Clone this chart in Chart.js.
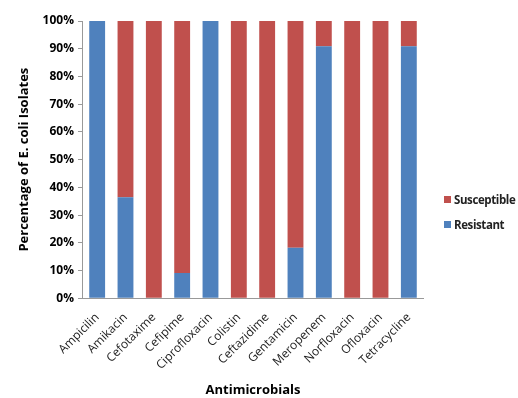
<!DOCTYPE html>
<html>
<head>
    <meta charset="UTF-8">
    <title>E. coli isolates</title>
    <style>
        body { margin: 0; background: #fff; }
        #wrap { position: relative; width: 518px; height: 398px; }
        #legend { position: absolute; left: 444px; top: 189px; font-family: "Open Sans", sans-serif;
                  font-weight: bold; font-size: 11.5px; color: #222; letter-spacing: -0.4px; white-space: nowrap; }
        #legend div { height: 25px; line-height: 22px; }
        #legend span { display: inline-block; width: 7px; height: 7px; margin-right: 3px; vertical-align: 1px; }
    </style>
</head>
<body>
<div id="wrap">
    <canvas id="chart" width="518" height="398"></canvas>
    <div id="legend"></div>
</div>
<script src="https://cdn.jsdelivr.net/npm/chart.js"></script>
<script>
    var antimicrobials = ["Ampicilin", "Amikacin", "Cefotaxime", "Cefipime", "Ciprofloxacin", "Colistin",
        "Ceftazidime", "Gentamicin", "Meropenem", "Norfloxacin", "Ofloxacin", "Tetracycline"];
    var resistant = [100, 36.4, 0, 9.1, 100, 0, 0, 18.2, 90.9, 0, 0, 90.9];
    var susceptible = [0, 63.6, 100, 90.9, 0, 100, 100, 81.8, 9.1, 100, 100, 9.1];

    var blue = "#4F81BD";
    var red = "#C0504D";

    // legend drawn by hand (Susceptible on top like the original)
    var legendItems = [["Susceptible", red], ["Resistant", blue]];
    var legendHtml = "";
    legendItems.forEach(function (it) {
        legendHtml += '<div><span style="background:' + it[1] + '"></span>' + it[0] + '</div>';
    });
    document.getElementById("legend").innerHTML = legendHtml;

    var ctx = document.getElementById("chart").getContext("2d");
    new Chart(ctx, {
        type: "bar",
        data: {
            labels: antimicrobials,
            datasets: [
                { label: "Resistant", data: resistant, backgroundColor: blue, barPercentage: 0.56, categoryPercentage: 1 },
                { label: "Susceptible", data: susceptible, backgroundColor: red, barPercentage: 0.56, categoryPercentage: 1 }
            ]
        },
        options: {
            responsive: false,
            animation: false,
            layout: { padding: { top: 21, right: 95, left: 12, bottom: 0 } },
            plugins: {
                legend: { display: false },
                tooltip: { enabled: false }
            },
            scales: {
                x: {
                    stacked: true,
                    grid: { display: false },
                    border: { color: "#999" },
                    ticks: {
                        maxRotation: 45, minRotation: 45, color: "#222", padding: 4,
                        font: { family: "Open Sans", size: 12 }
                    },
                    title: {
                        display: true, text: "Antimicrobials", color: "#000",
                        font: { family: "Open Sans", size: 13, weight: "bold" },
                        padding: { top: 6, bottom: 0 }
                    }
                },
                y: {
                    stacked: true,
                    min: 0, max: 100,
                    grid: { drawOnChartArea: false, drawTicks: true, tickLength: 5, color: "#999" },
                    border: { color: "#999" },
                    ticks: {
                        stepSize: 10, color: "#000", padding: 4,
                        font: { family: "Open Sans", size: 12, weight: "bold" },
                        callback: function (v) { return v + "%"; }
                    },
                    title: {
                        display: true, text: "Percentage of E. coli Isolates", color: "#000",
                        font: { family: "Open Sans", size: 13, weight: "bold" },
                        padding: { bottom: 7 }
                    }
                }
            }
        }
    });
</script>
</body>
</html>
